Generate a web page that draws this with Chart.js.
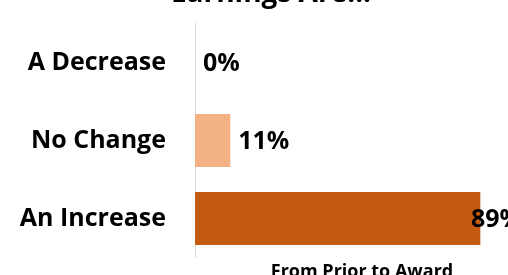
<!DOCTYPE html>
<html>
<head>
<meta charset="utf-8">
<script src="https://cdn.jsdelivr.net/npm/chart.js@4/dist/chart.umd.min.js"></script>
<style>
html,body{margin:0;padding:0;background:#fff;overflow:hidden;width:508px;height:275px;}
#wrap{position:absolute;left:0;top:-30px;width:540px;height:310px;}
</style>
</head>
<body>
<div id="wrap"><canvas id="c"></canvas></div>
<script>
const categories = ["A Decrease", "No Change", "An Increase"];
const values = [0, 11, 89];
const barColors = ["#F4B183", "#F4B183", "#C55A11"];
const titleText = "Earnings Are...";
const legendText = "From Prior to Award";

const FONT = "'Open Sans', 'DejaVu Sans', sans-serif";

const labelPlugin = {
  id: 'customText',
  afterDatasetsDraw(chart) {
    const ctx = chart.ctx;
    const meta = chart.getDatasetMeta(0);
    const area = chart.chartArea;
    ctx.save();
    ctx.font = "bold 25px " + FONT;
    ctx.fillStyle = "#000";
    ctx.textBaseline = "middle";
    ctx.textAlign = "left";
    meta.data.forEach((bar, i) => {
      const txt = values[i] + "%";
      const w = ctx.measureText(txt).width;
      let x = bar.x + 8;
      if (x + w > area.right) x = area.right - w;
      ctx.fillText(txt, x, bar.y + 1);
    });
    // title
    ctx.font = "bold 28px " + FONT;
    ctx.textAlign = "center";
    ctx.textBaseline = "alphabetic";
    ctx.fillText(titleText, 271, 32);
    // legend
    ctx.font = "bold 18px " + FONT;
    ctx.fillText(legendText, 362, 307);
    ctx.restore();
  }
};

new Chart(document.getElementById('c'), {
  type: 'bar',
  data: {
    labels: categories,
    datasets: [{
      label: legendText,
      data: values,
      backgroundColor: barColors,
      borderWidth: 0,
      categoryPercentage: 1,
      barPercentage: 0.68
    }]
  },
  options: {
    indexAxis: 'y',
    responsive: true,
    maintainAspectRatio: false,
    animation: false,
    devicePixelRatio: 1,
    layout: { padding: { top: 53.5, bottom: 22.5, left: 0, right: 18 } },
    plugins: { legend: { display: false }, title: { display: false }, tooltip: { enabled: false } },
    scales: {
      x: { display: false, min: 0, max: 102 },
      y: {
        afterFit: (s) => { s.width = 195; s.paddingTop = 0; s.paddingBottom = 0; },
        grid: { display: false, drawTicks: false },
        border: { display: true, color: '#d9d9d9', width: 1 },
        ticks: { color: '#000', padding: 29, font: { family: FONT, size: 25, weight: 'bold' } }
      }
    }
  },
  plugins: [labelPlugin]
});
</script>
</body>
</html>
